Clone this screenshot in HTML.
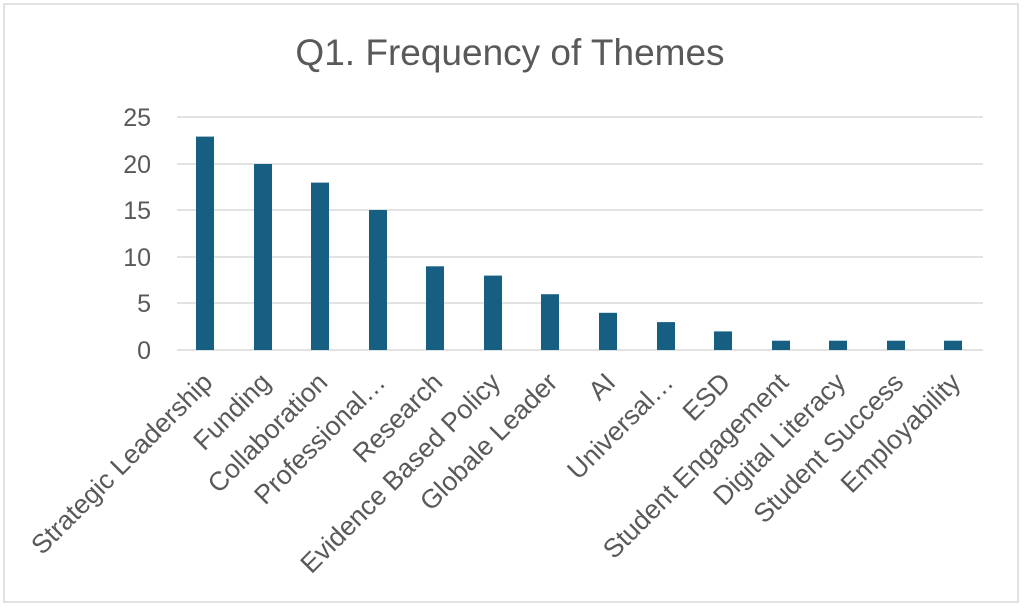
<!DOCTYPE html>
<html><head><meta charset="utf-8"><style>
html,body{margin:0;padding:0;background:#fff;}
svg{display:block;}
text{font-family:"Liberation Sans",sans-serif;fill:#595959;}
</style></head><body>
<svg width="1024" height="609" viewBox="0 0 1024 609">
<rect x="4" y="4" width="1014" height="598" fill="#fff" stroke="#d9d9d9" stroke-width="1.5"/>
<text x="510" y="65" font-size="37" text-anchor="middle">Q1. Frequency of Themes</text>
<g stroke="#d9d9d9" stroke-width="1.5">
<line x1="177" y1="117" x2="983" y2="117"/>
<line x1="177" y1="164" x2="983" y2="164"/>
<line x1="177" y1="210" x2="983" y2="210"/>
<line x1="177" y1="257" x2="983" y2="257"/>
<line x1="177" y1="303" x2="983" y2="303"/>
<line x1="177" y1="350" x2="983" y2="350"/>
</g>
<g font-size="25" text-anchor="end">
<text x="151" y="126">25</text>
<text x="151" y="173">20</text>
<text x="151" y="219">15</text>
<text x="151" y="266">10</text>
<text x="151" y="312">5</text>
<text x="151" y="359">0</text>
</g>
<g fill="#175f82">
<rect x="196" y="136.6" width="18" height="213.4"/>
<rect x="254" y="164" width="18" height="186"/>
<rect x="311" y="182.6" width="18" height="167.4"/>
<rect x="369" y="210" width="18" height="140"/>
<rect x="426" y="266.3" width="18" height="83.7"/>
<rect x="484" y="275.6" width="18" height="74.4"/>
<rect x="541" y="294.2" width="18" height="55.8"/>
<rect x="599" y="312.8" width="18" height="37.2"/>
<rect x="657" y="322.1" width="18" height="27.9"/>
<rect x="714" y="331.4" width="18" height="18.6"/>
<rect x="772" y="340.7" width="18" height="9.3"/>
<rect x="829" y="340.7" width="18" height="9.3"/>
<rect x="887" y="340.7" width="18" height="9.3"/>
<rect x="944" y="340.7" width="18" height="9.3"/>
</g>
<g font-size="26.5" text-anchor="end">
<text transform="translate(214,384) rotate(-45)">Strategic Leadership</text>
<text transform="translate(272,384) rotate(-45)">Funding</text>
<text transform="translate(329,384) rotate(-45)">Collaboration</text>
<text transform="translate(387,384) rotate(-45)">Professional…</text>
<text transform="translate(444,384) rotate(-45)">Research</text>
<text transform="translate(502,384) rotate(-45)">Evidence Based Policy</text>
<text transform="translate(559,384) rotate(-45)">Globale Leader</text>
<text transform="translate(617,384) rotate(-45)">AI</text>
<text transform="translate(675,384) rotate(-45)">Universal…</text>
<text transform="translate(732,384) rotate(-45)">ESD</text>
<text transform="translate(790,384) rotate(-45)">Student Engagement</text>
<text transform="translate(847,384) rotate(-45)">Digital Literacy</text>
<text transform="translate(905,384) rotate(-45)">Student Success</text>
<text transform="translate(962,384) rotate(-45)">Employability</text>
</g>
</svg>
</body></html>
